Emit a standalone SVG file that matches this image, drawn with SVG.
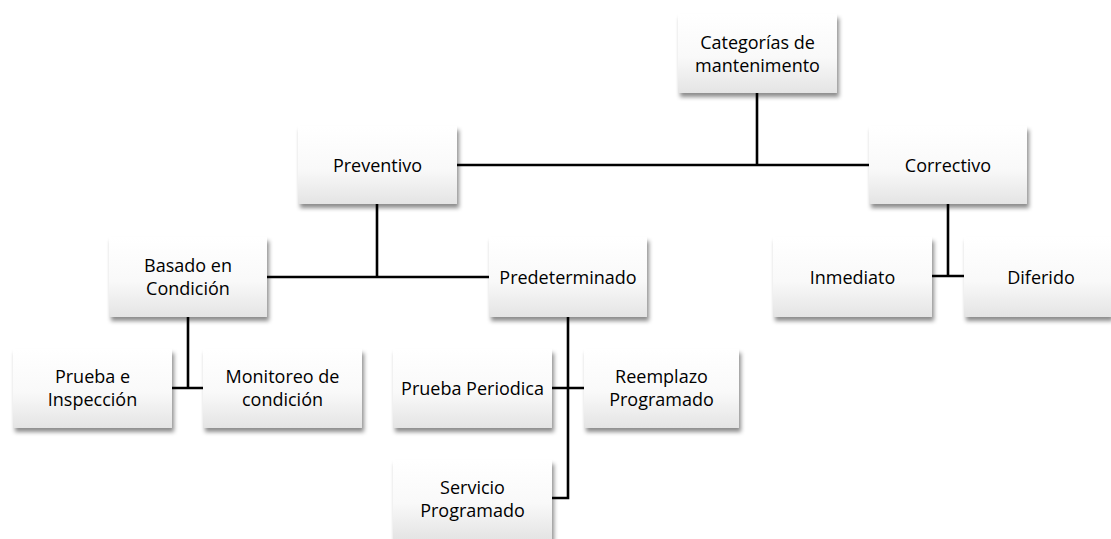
<svg xmlns="http://www.w3.org/2000/svg" width="1111" height="539" viewBox="0 0 1111 539">
<style>
.box{fill:url(#g);filter:url(#sh)}
.t{font-family:"Open Sans","Liberation Sans",sans-serif;font-size:18px;fill:#000;text-anchor:middle}
.c{stroke:#000;stroke-width:2.6;fill:none}
</style>
<defs>
<linearGradient id="g" x1="0" y1="0" x2="0" y2="1">
<stop offset="0" stop-color="#ffffff"/>
<stop offset="0.55" stop-color="#f9f9f9"/>
<stop offset="1" stop-color="#e4e4e4"/>
</linearGradient>
<filter id="sh" x="-10%" y="-10%" width="125%" height="130%">
<feDropShadow dx="2" dy="4" stdDeviation="2" flood-color="#000" flood-opacity="0.45"/>
</filter>
</defs>
<rect width="1111" height="539" fill="#fff"/>
<g id="connectors">
<path class="c" d="M757 93V165M457 165H869"/>
<path class="c" d="M377 204V277M267 277H489"/>
<path class="c" d="M188 317V388M172 388H203"/>
<path class="c" d="M568 317V498H552M552 388H584"/>
<path class="c" d="M948 204V276M932 276H964"/>
</g>
<g id="n-categorias"><rect class="box" x="678" y="14" width="159" height="79"/><text class="t" x="757.5" y="49">Categorías de</text><text class="t" x="757.5" y="72">mantenimento</text></g>
<g id="n-preventivo"><rect class="box" x="298" y="126" width="159" height="78"/><text class="t" x="377.5" y="172">Preventivo</text></g>
<g id="n-correctivo"><rect class="box" x="869" y="126" width="158" height="78"/><text class="t" x="948" y="172">Correctivo</text></g>
<g id="n-basado"><rect class="box" x="109" y="237" width="158" height="80"/><text class="t" x="188" y="272">Basado en</text><text class="t" x="188" y="295">Condición</text></g>
<g id="n-predeterminado"><rect class="box" x="489" y="237" width="158" height="80"/><text class="t" x="568" y="284">Predeterminado</text></g>
<g id="n-inmediato"><rect class="box" x="773" y="237" width="159" height="80"/><text class="t" x="852.5" y="284">Inmediato</text></g>
<g id="n-diferido"><rect class="box" x="964" y="237" width="147" height="80"/><text class="t" x="1041" y="284">Diferido</text></g>
<g id="n-prueba-e"><rect class="box" x="13" y="349" width="159" height="79"/><text class="t" x="92.5" y="383">Prueba e</text><text class="t" x="92.5" y="406">Inspección</text></g>
<g id="n-monitoreo"><rect class="box" x="203" y="349" width="159" height="79"/><text class="t" x="282.5" y="383">Monitoreo de</text><text class="t" x="282.5" y="406">condición</text></g>
<g id="n-prueba-periodica"><rect class="box" x="393" y="349" width="159" height="79"/><text class="t" x="472.5" y="395">Prueba Periodica</text></g>
<g id="n-reemplazo"><rect class="box" x="584" y="349" width="155" height="79"/><text class="t" x="661.5" y="383">Reemplazo</text><text class="t" x="661.5" y="406">Programado</text></g>
<g id="n-servicio"><rect class="box" x="393" y="460" width="159" height="79"/><text class="t" x="472.5" y="494">Servicio</text><text class="t" x="472.5" y="517">Programado</text></g>
</svg>
